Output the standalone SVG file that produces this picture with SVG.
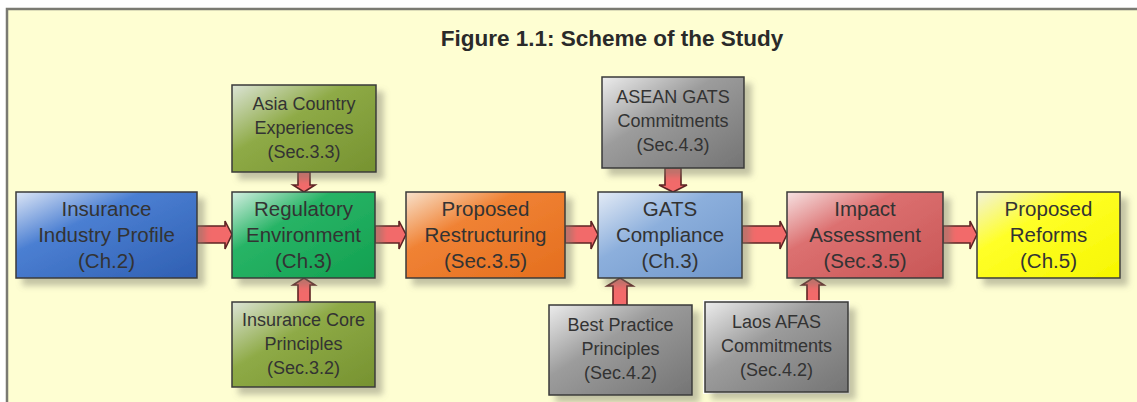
<svg xmlns="http://www.w3.org/2000/svg" width="1137" height="402" viewBox="0 0 1137 402">
<style>
.bx{stroke:#3a3a3a;stroke-width:1.5}
.t{font-family:"Liberation Sans",Arial,sans-serif;fill:#333;text-anchor:middle}
.m{font-size:20.5px}
.s{font-size:18px}
.ttl{font-family:"Liberation Sans",Arial,sans-serif;font-weight:bold;font-size:22.5px;fill:#2a2a2a;text-anchor:middle}
.ar{fill:#f26a6a;stroke:#5e2424;stroke-width:1.6;stroke-linejoin:miter}
</style>
<defs>
<filter id="sh" x="-10%" y="-10%" width="130%" height="140%">
<feDropShadow dx="7" dy="7" stdDeviation="3" flood-color="#7a7a6a" flood-opacity="0.45"/>
</filter>
<linearGradient id="gBlue" x1="0" y1="0" x2="1" y2="1">
<stop offset="0" stop-color="#dde6f6"/><stop offset="0.35" stop-color="#4b7fd2"/><stop offset="1" stop-color="#2f5fb2"/>
</linearGradient>
<linearGradient id="gGreen" x1="0" y1="0" x2="1" y2="1">
<stop offset="0" stop-color="#d4efe2"/><stop offset="0.35" stop-color="#28b466"/><stop offset="1" stop-color="#12a050"/>
</linearGradient>
<linearGradient id="gOlive" x1="0" y1="0" x2="1" y2="1">
<stop offset="0" stop-color="#dce4d6"/><stop offset="0.4" stop-color="#8eaa46"/><stop offset="1" stop-color="#769230"/>
</linearGradient>
<linearGradient id="gOrange" x1="0" y1="0" x2="1" y2="1">
<stop offset="0" stop-color="#f8e2cc"/><stop offset="0.35" stop-color="#f08234"/><stop offset="1" stop-color="#e46e1e"/>
</linearGradient>
<linearGradient id="gSteel" x1="0" y1="0" x2="1" y2="1">
<stop offset="0" stop-color="#e4ebf6"/><stop offset="0.4" stop-color="#8cafdc"/><stop offset="1" stop-color="#6f96ca"/>
</linearGradient>
<linearGradient id="gGray" x1="0" y1="0" x2="1" y2="1">
<stop offset="0" stop-color="#ececec"/><stop offset="0.4" stop-color="#9c9c9c"/><stop offset="1" stop-color="#747474"/>
</linearGradient>
<linearGradient id="gRed" x1="0" y1="0" x2="1" y2="1">
<stop offset="0" stop-color="#f6e2e2"/><stop offset="0.35" stop-color="#dc7070"/><stop offset="1" stop-color="#c85656"/>
</linearGradient>
<linearGradient id="gYellow" x1="0" y1="0" x2="1" y2="1">
<stop offset="0" stop-color="#f2f2dc"/><stop offset="0.35" stop-color="#ffff28"/><stop offset="1" stop-color="#f6f600"/>
</linearGradient>
</defs>

<rect x="0" y="0" width="1137" height="402" fill="#ffffff"/>
<rect x="7" y="9" width="1140" height="400" fill="#fefed2" stroke="#7a7a72" stroke-width="2.5"/>

<text class="ttl" x="612" y="46">Figure 1.1: Scheme of the Study</text>

<g id="connectors">
<polygon class="ar" points="197,226 225,226 225,221 232,234.5 225,249 225,243 197,243"/>
<polygon class="ar" points="375,226 399,226 399,221 406,234.5 399,249 399,243 375,243"/>
<polygon class="ar" points="565,226 591,226 591,221 598,234.5 591,249 591,243 565,243"/>
<polygon class="ar" points="742,226 780,226 780,221 787,234.5 780,249 780,243 742,243"/>
<polygon class="ar" points="943,226 970,226 970,221 977,234.5 970,249 970,243 943,243"/>
<polygon class="ar" points="298,172 310,172 310,185 315,185 304,192 293,185 298,185"/>
<polygon class="ar" points="298,302 310,302 310,285 315,285 304,278 293,285 298,285"/>
<polygon class="ar" points="665,168 681,168 681,185 687,185 673,192 659,185 665,185"/>
<polygon class="ar" points="613,305 627,305 627,286 633,286 620,278 607,286 613,286"/>
<polygon class="ar" points="807,302 819,302 819,285 824,285 813,278 802,285 807,285"/>
</g>

<g id="insurance-industry-profile">
<rect class="bx" x="16" y="192" width="181" height="86" fill="url(#gBlue)" filter="url(#sh)"/>
<text class="t m" x="106.5" y="216">Insurance</text>
<text class="t m" x="106.5" y="242">Industry Profile</text>
<text class="t m" x="106.5" y="268">(Ch.2)</text>
</g>

<g id="regulatory-environment">
<rect class="bx" x="232" y="192" width="143" height="86" fill="url(#gGreen)" filter="url(#sh)"/>
<text class="t m" x="303.5" y="216">Regulatory</text>
<text class="t m" x="303.5" y="242">Environment</text>
<text class="t m" x="303.5" y="268">(Ch.3)</text>
</g>

<g id="asia-country-experiences">
<rect class="bx" x="232" y="85" width="144" height="87" fill="url(#gOlive)" filter="url(#sh)"/>
<text class="t s" x="304" y="110">Asia Country</text>
<text class="t s" x="304" y="134">Experiences</text>
<text class="t s" x="304" y="158">(Sec.3.3)</text>
</g>

<g id="insurance-core-principles">
<rect class="bx" x="232" y="302" width="143" height="85" fill="url(#gOlive)" filter="url(#sh)"/>
<text class="t s" x="303.5" y="326">Insurance Core</text>
<text class="t s" x="303.5" y="350">Principles</text>
<text class="t s" x="303.5" y="374">(Sec.3.2)</text>
</g>

<g id="proposed-restructuring">
<rect class="bx" x="406" y="192" width="159" height="86" fill="url(#gOrange)" filter="url(#sh)"/>
<text class="t m" x="485.5" y="216">Proposed</text>
<text class="t m" x="485.5" y="242">Restructuring</text>
<text class="t m" x="485.5" y="268">(Sec.3.5)</text>
</g>

<g id="gats-compliance">
<rect class="bx" x="598" y="192" width="144" height="86" fill="url(#gSteel)" filter="url(#sh)"/>
<text class="t m" x="670" y="216">GATS</text>
<text class="t m" x="670" y="242">Compliance</text>
<text class="t m" x="670" y="268">(Ch.3)</text>
</g>

<g id="asean-gats-commitments">
<rect class="bx" x="602" y="77" width="142" height="91" fill="url(#gGray)" filter="url(#sh)"/>
<text class="t s" x="673" y="103">ASEAN GATS</text>
<text class="t s" x="673" y="127">Commitments</text>
<text class="t s" x="673" y="151">(Sec.4.3)</text>
</g>

<g id="best-practice-principles">
<rect class="bx" x="549" y="305" width="143" height="90" fill="url(#gGray)" filter="url(#sh)"/>
<text class="t s" x="620.5" y="331">Best Practice</text>
<text class="t s" x="620.5" y="355">Principles</text>
<text class="t s" x="620.5" y="379">(Sec.4.2)</text>
</g>

<g id="laos-afas-commitments">
<rect x="703" y="300" width="147" height="94" fill="#ffffff" opacity="0.8"/>
<rect class="bx" x="705" y="302" width="143" height="90" fill="url(#gGray)" filter="url(#sh)"/>
<text class="t s" x="776.5" y="328">Laos AFAS</text>
<text class="t s" x="776.5" y="352">Commitments</text>
<text class="t s" x="776.5" y="376">(Sec.4.2)</text>
</g>

<g id="impact-assessment">
<rect class="bx" x="787" y="192" width="156" height="86" fill="url(#gRed)" filter="url(#sh)"/>
<text class="t m" x="865" y="216">Impact</text>
<text class="t m" x="865" y="242">Assessment</text>
<text class="t m" x="865" y="268">(Sec.3.5)</text>
</g>

<g id="proposed-reforms">
<rect class="bx" x="977" y="192" width="143" height="86" fill="url(#gYellow)" filter="url(#sh)"/>
<text class="t m" x="1048.5" y="216">Proposed</text>
<text class="t m" x="1048.5" y="242">Reforms</text>
<text class="t m" x="1048.5" y="268">(Ch.5)</text>
</g>
</svg>
